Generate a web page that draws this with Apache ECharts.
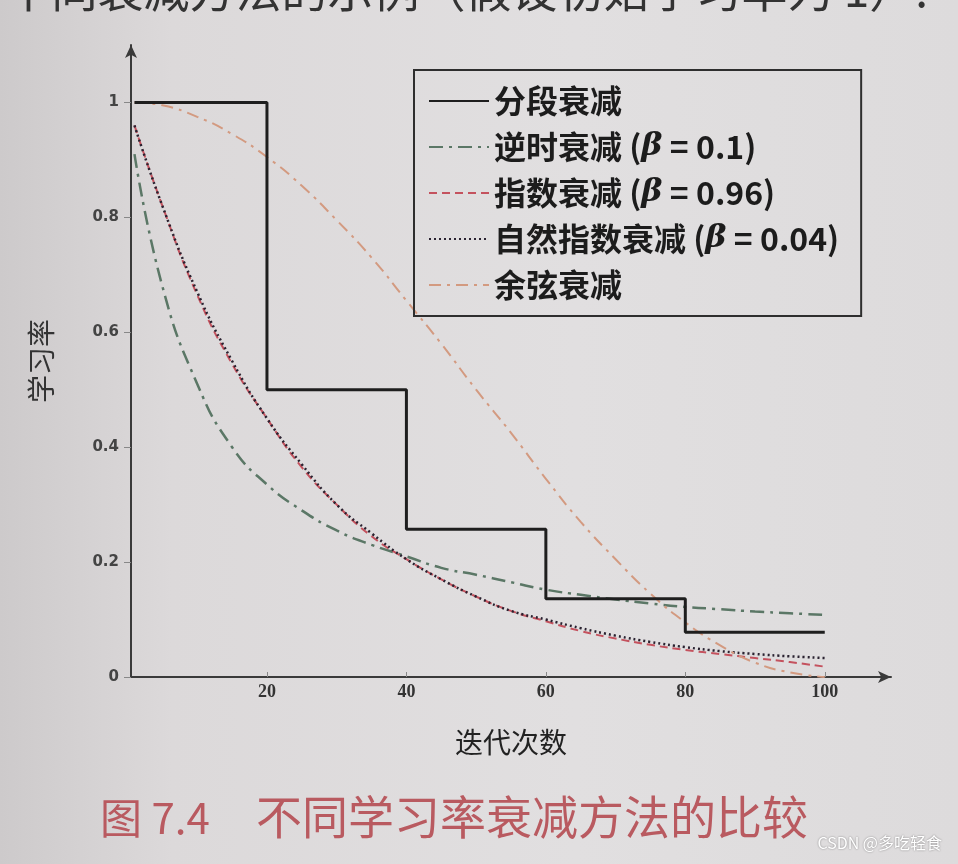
<!DOCTYPE html>
<html>
<head>
<meta charset="utf-8">
<script src="https://cdn.jsdelivr.net/npm/echarts@6/dist/echarts.min.js"></script>
<style>
html, body { margin: 0; padding: 0; }
#chart {
	width: 958px; height: 864px;
	background: linear-gradient(90deg, #cdcacb 0%, #dcd9da 18%, #e1dfe0 60%, #dddbdc 100%);
}
</style>
</head>
<body>
<div id="chart"></div>
<script>
// 迭代次数（横轴取样点）
var iters = [1, 5, 10, 15, 20, 25, 30, 35, 40, 45, 50, 55, 60, 65, 70, 75, 80, 85, 90, 95, 100];
// 分段衰减：每20次迭代减半
var stepX = [1, 20, 40, 60, 80, 100];
var stepY = [1, 0.5, 0.257, 0.136, 0.078, 0.078];
// 逆时衰减 β=0.1
var inverseY = [0.91, 0.68, 0.51, 0.40, 0.335, 0.29, 0.255, 0.23, 0.21, 0.19, 0.178, 0.165, 0.152, 0.143, 0.135, 0.128, 0.122, 0.118, 0.114, 0.111, 0.108];
// 指数衰减 β=0.96
var expY = [0.96, 0.82, 0.665, 0.545, 0.45, 0.365, 0.30, 0.245, 0.205, 0.17, 0.14, 0.115, 0.097, 0.08, 0.067, 0.056, 0.047, 0.04, 0.033, 0.026, 0.018];
// 自然指数衰减 β=0.04
var natY = [0.96, 0.82, 0.67, 0.55, 0.45, 0.37, 0.30, 0.25, 0.205, 0.17, 0.14, 0.115, 0.10, 0.085, 0.072, 0.061, 0.052, 0.045, 0.04, 0.036, 0.033];
// 余弦衰减
var cosY = [1.0, 0.995, 0.975, 0.945, 0.905, 0.855, 0.795, 0.73, 0.655, 0.58, 0.5, 0.425, 0.345, 0.27, 0.205, 0.145, 0.095, 0.055, 0.025, 0.008, 0.0];
var xTicks = [20, 40, 60, 80, 100];
var yTicks = [0, 0.2, 0.4, 0.6, 0.8, 1];
var names = ['分段衰减', '逆时衰减 (β = 0.1)', '指数衰减 (β = 0.96)', '自然指数衰减 (β = 0.04)', '余弦衰减'];

function zip(xs, ys) {
	return xs.map(function (x, i) { return [x, ys[i]]; });
}

var dom = document.getElementById('chart');
var myChart = echarts.init(dom);
var option = {
	backgroundColor: 'transparent',
	animation: false,
	grid: { left: 131, right: 67, top: 45, bottom: 187 },
	legend: {
		orient: 'vertical',
		left: 414, top: 70,
		padding: [15, 22, 15, 14],
		itemGap: 14,
		itemWidth: 60,
		itemHeight: 20,
		borderColor: '#2e2e2e',
		borderWidth: 2,
		borderRadius: 0,
		itemStyle: { opacity: 0 },
		data: names,
		formatter: function (name) {
			return name.replace('β', '{b|β}');
		},
		textStyle: {
			fontFamily: 'Noto Sans CJK SC',
			fontSize: 32,
			fontWeight: 'bold',
			color: '#1c1c1c',
			rich: {
				b: { fontFamily: 'DejaVu Serif', fontStyle: 'italic', fontWeight: 'bold', fontSize: 32, color: '#1c1c1c' }
			}
		}
	},
	xAxis: {
		type: 'value',
		min: 0.5, max: 109.5,
		name: '迭代次数',
		nameLocation: 'middle',
		nameGap: 51,
		nameTextStyle: { fontFamily: 'Noto Sans CJK SC', fontSize: 28, color: '#222' },
		axisLine: { lineStyle: { color: '#3a3a3a', width: 2 }, symbol: ['none', 'arrow'], symbolSize: [9, 13] },
		axisTick: { show: true, inside: true, length: 5, lineStyle: { color: '#888' }, customValues: xTicks },
		axisLabel: { customValues: xTicks, margin: 6, fontFamily: 'Liberation Serif', fontSize: 18, fontWeight: 'bold', color: '#333' },
		splitLine: { show: false }
	},
	yAxis: {
		type: 'value',
		min: 0, max: 1.1,
		name: '学习率',
		nameLocation: 'middle',
		nameRotate: 90,
		nameGap: 76,
		nameTextStyle: { fontFamily: 'Noto Sans CJK SC', fontSize: 28, color: '#333' },
		axisLine: { lineStyle: { color: '#3a3a3a', width: 2 }, symbol: ['none', 'arrow'], symbolSize: [9, 13] },
		axisTick: { show: true, length: 7, lineStyle: { color: '#888' }, customValues: yTicks },
		axisLabel: { customValues: yTicks, margin: 12, fontFamily: 'DejaVu Sans', fontSize: 15, fontWeight: 'bold', color: '#444' },
		splitLine: { show: false }
	},
	graphic: [
		{
			type: 'text', x: 928, y: 13,
			style: { text: '图 7.4 给出了不同衰减方法的示例（假设初始学习率为 1）.', fontFamily: 'Noto Sans CJK SC', fontSize: 46, fill: '#333', align: 'right', verticalAlign: 'bottom' }
		},
		{
			type: 'text', left: 100, top: 797,
			style: { text: '图 7.4', fontFamily: 'Noto Sans CJK SC', fontSize: 42, fill: '#b95a60' }
		},
		{
			type: 'text', left: 256, top: 794,
			style: { text: '不同学习率衰减方法的比较', fontFamily: 'Noto Sans CJK SC', fontSize: 46, fill: '#b95a60' }
		},
		{
			type: 'text', right: 16, top: 835,
			style: { text: 'CSDN @多吃轻食', fontFamily: 'Noto Sans CJK SC', fontSize: 16, fill: '#ffffff', textShadowColor: 'rgba(0,0,0,0.45)', textShadowBlur: 2 }
		}
	],
	series: [
		{
			name: names[0], type: 'line', step: 'end', symbol: 'none',
			data: zip(stepX, stepY),
			lineStyle: { color: '#1e1e1e', width: 3 }, itemStyle: { color: '#1e1e1e' }, z: 5
		},
		{
			name: names[1], type: 'line', smooth: true, symbol: 'none',
			data: zip(iters, inverseY),
			lineStyle: { color: '#5b7766', width: 2.5, type: [14, 6, 3, 6] }, itemStyle: { color: '#5b7766' }
		},
		{
			name: names[2], type: 'line', smooth: true, symbol: 'none',
			data: zip(iters, expY),
			lineStyle: { color: '#c4525e', width: 2, type: [8, 5] }, itemStyle: { color: '#c4525e' }
		},
		{
			name: names[3], type: 'line', smooth: true, symbol: 'none',
			data: zip(iters, natY),
			lineStyle: { color: '#2a2230', width: 2.5, type: [2, 3] }, itemStyle: { color: '#2a2230' }
		},
		{
			name: names[4], type: 'line', smooth: true, symbol: 'none',
			data: zip(iters, cosY),
			lineStyle: { color: '#d39a80', width: 2, type: [12, 6, 3, 6] }, itemStyle: { color: '#d39a80' }
		}
	]
};
if (option && typeof option === 'object') {
	myChart.setOption(option, true);
}
</script>
</body>
</html>
